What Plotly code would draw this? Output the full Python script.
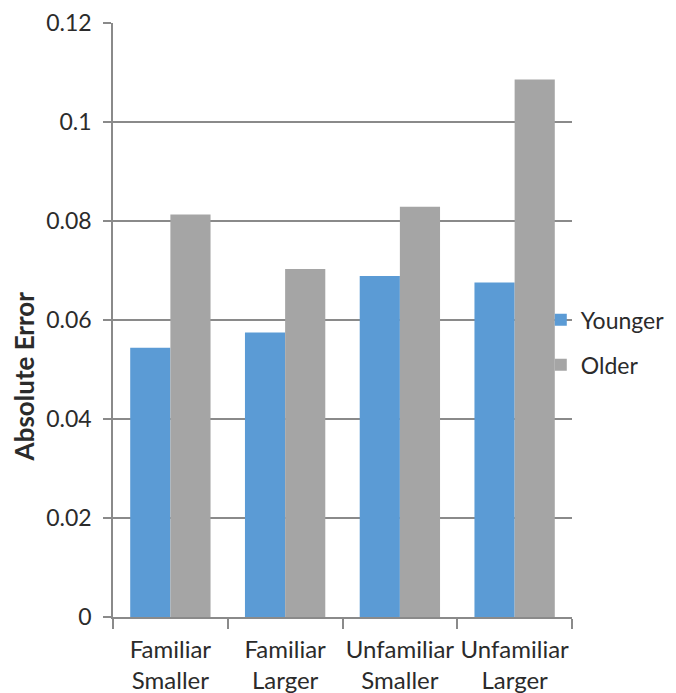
import plotly.graph_objects as go

categories = ["Familiar<br>Smaller", "Familiar<br>Larger", "Unfamiliar<br>Smaller", "Unfamiliar<br>Larger"]
younger = [0.0544, 0.0575, 0.0689, 0.0676]
older = [0.0813, 0.0703, 0.0829, 0.1086]
series_names = ["Younger", "Older"]
y_ticks = [0, 0.02, 0.04, 0.06, 0.08, 0.1, 0.12]
y_title = "Absolute Error"

FONT = "Lato"
TXT = "#2b2b2b"
GRID = "#8a8a8a"

fig = go.Figure()
fig.add_trace(go.Bar(x=categories, y=younger, name=series_names[0],
                     marker=dict(color="#5B9BD5", line=dict(width=0)), legendgroup="a"))
fig.add_trace(go.Bar(x=categories, y=older, name=series_names[1],
                     marker=dict(color="#A5A5A5", line=dict(width=0)), legendgroup="b"))

fig.update_layout(
    width=676, height=693,
    margin=dict(l=113, r=104, t=23, b=76, autoexpand=False),
    paper_bgcolor="white", plot_bgcolor="white",
    barmode="group", bargap=0.30, bargroupgap=0,
    font=dict(family=FONT, size=22, color=TXT),
    showlegend=True,
    legend=dict(x=0.932, xanchor="left", y=0.4625, yanchor="middle",
                font=dict(family=FONT, size=23, color=TXT),
                tracegroupgap=12, bgcolor="rgba(0,0,0,0)"),
    xaxis=dict(type="category", range=[-0.5, 3.5], showline=True, linecolor=GRID, linewidth=1.5,
               ticks="outside", tickson="boundaries", ticklen=10, tickcolor=GRID, tickwidth=1.5,
               tickfont=dict(family=FONT, size=24, color=TXT), showgrid=False, tickangle=0,
               automargin=False, ticklabelstandoff=10),
    yaxis=dict(range=[0, 0.12], tickvals=y_ticks, showline=True, linecolor=GRID, linewidth=1.5,
               ticks="outside", ticklen=8, tickcolor=GRID, tickwidth=1.5,
               showgrid=True, gridcolor=GRID, gridwidth=1.5, zeroline=False,
               tickfont=dict(family=FONT, size=23, color=TXT), automargin=False,
               ticklabelstandoff=7),
    annotations=[dict(text="<b>" + y_title + "</b>", xref="paper", yref="paper",
                      x=-0.194, y=0.405, xanchor="center", yanchor="middle",
                      textangle=-90, showarrow=False,
                      font=dict(family=FONT, size=26, color=TXT))],
)

fig.write_html("out.html", config={"displayModeBar": False},
               post_script="document.body.style.margin='0';document.body.style.padding='0';")
